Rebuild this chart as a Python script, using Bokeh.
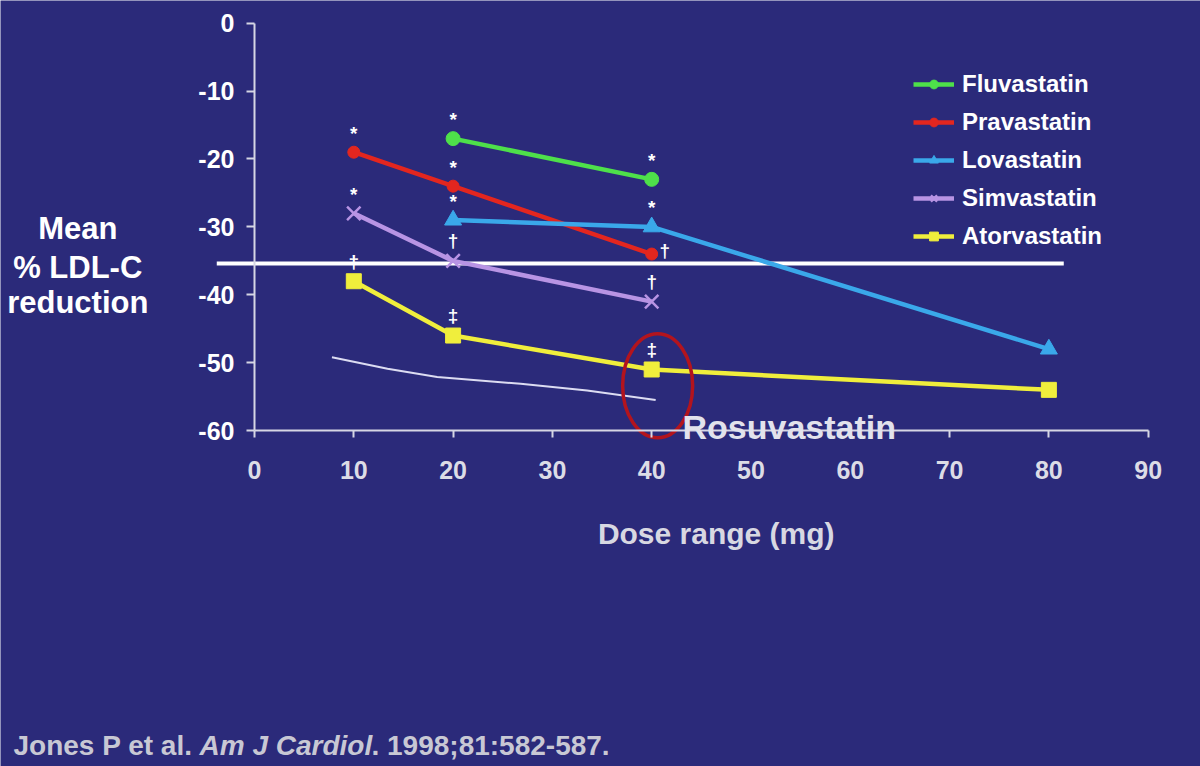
from bokeh.plotting import figure
from bokeh.models import Range1d, LinearAxis, FixedTicker, Label, Legend, LegendItem
from bokeh.core.properties import value
from bokeh.embed import file_html
from bokeh.resources import INLINE

# ---------------- data ----------------
fluva_dose = [20, 40]
fluva_ldl = [-17, -23]
fluva_marks = ["*", "*"]

prava_dose = [10, 20, 40]
prava_ldl = [-19, -24, -34]
prava_marks = ["*", "*", "\u2020"]
prava_mark_side = ["above", "above", "right"]

lova_dose = [20, 40, 80]
lova_ldl = [-29, -30, -48]
lova_marks = ["*", "*", ""]

simva_dose = [10, 20, 40]
simva_ldl = [-28, -35, -41]
simva_marks = ["*", "\u2020", "\u2020"]

atorva_dose = [10, 20, 40, 80]
atorva_ldl = [-38, -46, -51, -54]
atorva_marks = ["\u2020", "\u2021", "\u2021", ""]

rosu_dose = [7.8, 13.4, 18.4, 26.8, 33.5, 40.4]
rosu_ldl = [-49.2, -50.9, -52.1, -53.1, -54.1, -55.5]

ref_line_x = [-3.8, 81.5]
ref_line_y = [-35.4, -35.4]

highlight_x = [40.6]
highlight_y = [-53.4]

x_ticks = [0, 10, 20, 30, 40, 50, 60, 70, 80, 90]
y_ticks = [0, -10, -20, -30, -40, -50, -60]

# ---------------- style ----------------
BG = "#2b2a7a"
FONT = "Liberation Sans"
AXIS_C = "#d6d6e4"

p = figure(width=1200, height=766, output_backend="svg", toolbar_location=None,
           x_range=Range1d(-25.58, 95.27), y_range=Range1d(-109.47, 3.343),
           x_axis_type=None, y_axis_type=None,
           min_border_left=0, min_border_right=0, min_border_top=0,
           min_border_bottom=0,
           background_fill_color=BG, border_fill_color=BG, outline_line_color=None)


def style_axis(ax, color, size, standoff, tick_out):
    ax.axis_line_color = AXIS_C
    ax.axis_line_width = 2
    ax.major_tick_line_color = AXIS_C
    ax.major_tick_line_width = 2
    ax.major_tick_out = tick_out
    ax.major_tick_in = 0
    ax.minor_tick_line_color = None
    ax.major_label_text_color = color
    ax.major_label_text_font = FONT
    ax.major_label_text_font_style = "bold"
    ax.major_label_text_font_size = size
    ax.major_label_standoff = standoff


yaxis = LinearAxis(ticker=FixedTicker(ticks=y_ticks), fixed_location=0, bounds=(-60, 0),
                   major_label_overrides={t: str(t) for t in y_ticks})
style_axis(yaxis, "white", "25px", 12, 8)
p.add_layout(yaxis, "left")

xaxis = LinearAxis(ticker=FixedTicker(ticks=x_ticks), fixed_location=-60, bounds=(0, 90),
                   major_label_overrides={t: str(t) for t in x_ticks})
style_axis(xaxis, "#dcdce6", "25px", 23, 7)
p.add_layout(xaxis, "below")

# reference line and rosuvastatin sketch
p.line(ref_line_x, ref_line_y, line_color="white", line_width=4)
p.line(rosu_dose, rosu_ldl, line_color="#dcdcf2", line_width=2)

series = [
    ("Fluvastatin", fluva_dose, fluva_ldl, fluva_marks, "#4ee04a", "circle", 14, None),
    ("Pravastatin", prava_dose, prava_ldl, prava_marks, "#e3261f", "circle", 12, prava_mark_side),
    ("Lovastatin", lova_dose, lova_ldl, lova_marks, "#3aa8ea", "triangle", 17, None),
    ("Simvastatin", simva_dose, simva_ldl, simva_marks, "#b894e4", "x", 19, None),
    ("Atorvastatin", atorva_dose, atorva_ldl, atorva_marks, "#f0ee3c", "square", 15, None),
]

items = []
for name, xs, ys, marks, color, marker, size, sides in series:
    rl = p.line(xs, ys, line_color=color, line_width=4.5)
    if marker == "x":
        rs = p.scatter(xs, ys, marker=marker, size=size, line_color=color, line_width=2.5)
    else:
        rs = p.scatter(xs, ys, marker=marker, size=size, fill_color=color, line_color=color)
    items.append(LegendItem(label=name, renderers=[rl, rs]))
    sides = sides or ["above"] * len(xs)
    xo = [13 if s == "right" else 0 for s in sides]
    yo = [-4 if s == "right" else (-19 if m == "*" else -20) for s, m in zip(sides, marks)]
    p.text(x=xs, y=ys, text=marks, x_offset=xo, y_offset=yo,
           text_font=value(FONT), text_font_size="19px", text_font_style="bold",
           text_color="white", text_align="center", text_baseline="middle")

# red highlight ellipse
p.ellipse(x=highlight_x, y=highlight_y, width=70, height=104,
          width_units="screen", height_units="screen",
          fill_color=None, line_color="#b3141d", line_width=3.5)

legend = Legend(items=items, location=(913, 516), orientation="vertical",
                background_fill_alpha=0, border_line_color=None,
                padding=0, margin=0, spacing=10, glyph_width=41, glyph_height=22,
                label_height=22, label_standoff=8,
                label_text_color="white", label_text_font=FONT,
                label_text_font_style="bold", label_text_font_size="24px")
p.add_layout(legend, "center")

# texts
p.add_layout(Label(x=43.1, y=-59.5, text="Rosuvastatin", text_color="#e2e2ec",
                   text_font=FONT, text_font_style="bold", text_font_size="34px",
                   text_baseline="alphabetic"))

for txt, yy in [("Mean", -30.3), ("% LDL-C", -36.0), ("reduction", -41.1)]:
    p.add_layout(Label(x=-17.8, y=yy, text=txt, text_color="white", text_font=FONT,
                       text_font_style="bold", text_font_size="31px",
                       text_align="center", text_baseline="middle"))

p.add_layout(Label(x=46.5, y=-75.2, text="Dose range (mg)", text_color="#d8d8e2",
                   text_font=FONT, text_font_style="bold", text_font_size="30px",
                   text_align="center", text_baseline="middle"))

cite_c = "#c8c8d4"
p.add_layout(Label(x=-24.27, y=-106.4, text="Jones P et al. ", text_color=cite_c,
                   text_font=FONT, text_font_style="bold", text_font_size="28px",
                   text_baseline="middle"))
p.add_layout(Label(x=-5.54, y=-106.4, text="Am J Cardiol", text_color=cite_c,
                   text_font=FONT, text_font_style="bold italic", text_font_size="28px",
                   text_baseline="middle"))
p.add_layout(Label(x=11.78, y=-106.4, text=". 1998;81:582-587.", text_color=cite_c,
                   text_font=FONT, text_font_style="bold", text_font_size="28px",
                   text_baseline="middle"))

open("out.html", "w").write(file_html(p, INLINE))
